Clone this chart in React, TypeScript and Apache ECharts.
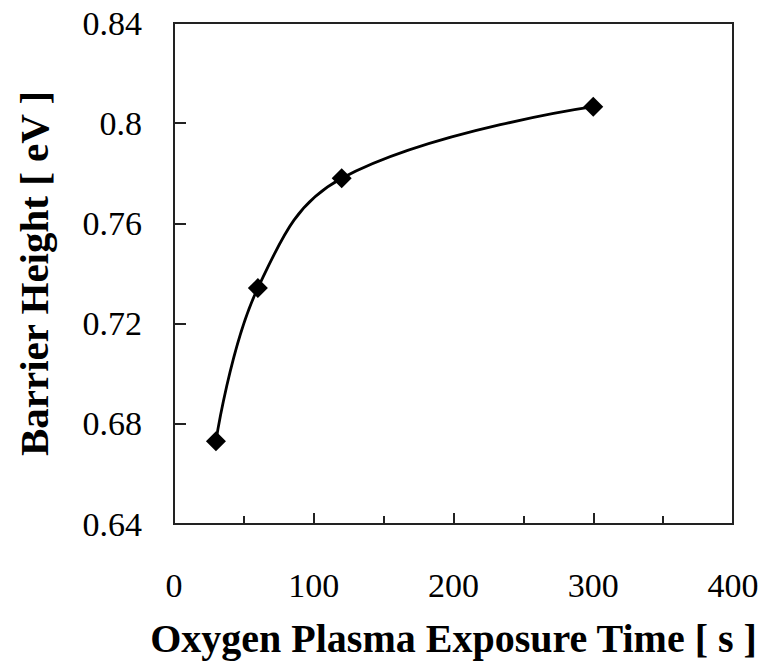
import React, { useEffect, useRef } from "react";
import * as echarts from "echarts";

const exposureTime = [30, 60, 120, 300];
const barrierHeight = [0.673, 0.7342, 0.778, 0.8066];
const xTitle = "Oxygen Plasma Exposure Time [ s ]";
const yTitle = "Barrier Height [ eV ]";

export default function App() {
  const ref = useRef<HTMLDivElement>(null);
  useEffect(() => {
    if (!ref.current) return;
    const chart = echarts.init(ref.current, null, { renderer: "svg" });
    const font = "'Liberation Serif', 'Times New Roman', serif";
    chart.setOption({
      animation: false,
      backgroundColor: "#fff",
      grid: {
        left: 174,
        top: 23,
        right: 35,
        bottom: 137,
        show: true,
        borderColor: "#222",
        borderWidth: 2,
        backgroundColor: "transparent",
      },
      xAxis: {
        type: "value",
        min: 0,
        max: 400,
        interval: 100,
        name: xTitle,
        nameLocation: "middle",
        nameGap: 94,
        nameTextStyle: { fontFamily: font, fontSize: 40, fontWeight: "bold", color: "#000" },
        axisLine: { show: true, lineStyle: { color: "#222", width: 2 } },
        axisTick: { show: true, inside: true, length: 11, lineStyle: { color: "#222", width: 2 } },
        minorTick: { show: true, splitNumber: 2, length: 8, lineStyle: { color: "#222", width: 2 } },
        splitLine: { show: false },
        axisLabel: { fontFamily: font, fontSize: 34, color: "#000", margin: 44 },
      },
      yAxis: {
        type: "value",
        min: 0.64,
        max: 0.84,
        interval: 0.04,
        name: yTitle,
        nameLocation: "middle",
        nameGap: 120,
        nameTextStyle: { fontFamily: font, fontSize: 41, fontWeight: "bold", color: "#000" },
        axisLine: { show: true, lineStyle: { color: "#222", width: 2 } },
        axisTick: { show: true, inside: true, length: 12, lineStyle: { color: "#222", width: 2 } },
        splitLine: { show: false },
        axisLabel: {
          fontFamily: font,
          fontSize: 34,
          color: "#000",
          margin: 32,
          formatter: (v: number) => String(parseFloat(v.toFixed(2))),
        },
      },
      series: [
        {
          type: "line",
          data: exposureTime.map((x, i) => [x, barrierHeight[i]]),
          smooth: 0.4,
          symbol: "diamond",
          symbolSize: 20,
          lineStyle: { color: "#000", width: 2.8 },
          itemStyle: { color: "#000" },
        },
      ],
    });
    return () => chart.dispose();
  }, []);
  return (
    <div
      ref={ref}
      style={{ position: "absolute", left: 0, top: 0, width: 768, height: 663 }}
    />
  );
}
